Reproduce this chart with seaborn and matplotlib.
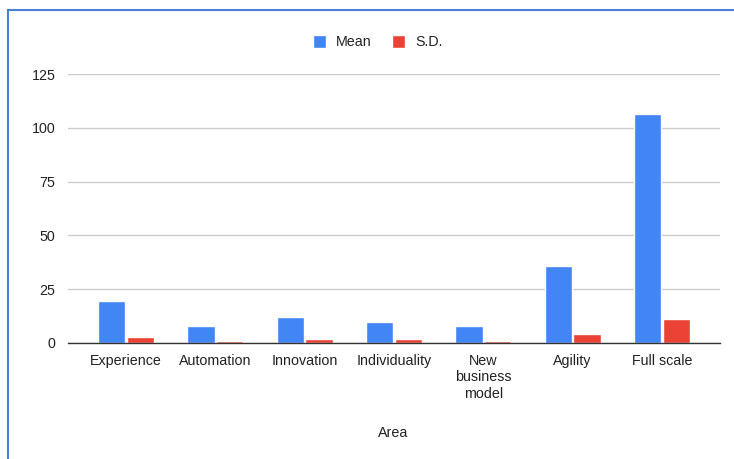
import matplotlib
matplotlib.use("Agg")
import matplotlib.pyplot as plt
import seaborn as sns
import pandas as pd
from matplotlib.patches import Rectangle

# data
areas = ['Experience', 'Automation', 'Innovation', 'Individuality',
         'New\nbusiness\nmodel', 'Agility', 'Full scale']
mean_vals = [19.3, 7.9, 11.9, 9.6, 7.9, 35.8, 106.2]
sd_vals = [2.7, 0.8, 1.7, 1.7, 1.1, 4.0, 11.0]
series = ['Mean', 'S.D.']
yticks = [0, 25, 50, 75, 100, 125]

df = pd.DataFrame({
    'Area': areas * 2,
    'value': mean_vals + sd_vals,
    'series': [series[0]] * len(areas) + [series[1]] * len(areas),
})

sns.set_style('white')
plt.rcParams['font.family'] = ['Liberation Sans', 'DejaVu Sans']

fig = plt.figure(figsize=(7.34, 4.59), dpi=100)
ax = fig.add_axes([68 / 734, 1 - 343 / 459, (720 - 68) / 734, (343 - 74) / 459])

sns.barplot(data=df, x='Area', y='value', hue='series', order=areas,
            palette=['#4285F4', '#EA4335'], width=0.64, gap=0.04,
            saturation=1, ax=ax, legend=True)

ax.set_ylim(0, 125)
ax.set_xlim(-0.65, 6.65)
ax.set_yticks(yticks)
ax.yaxis.grid(True, color='#cccccc', linewidth=1)
ax.set_axisbelow(True)
for s in ['top', 'right', 'left']:
    ax.spines[s].set_visible(False)
ax.spines['bottom'].set_color('#333333')
ax.spines['bottom'].set_linewidth(1)
ax.tick_params(axis='both', length=0, labelsize=10.3, colors='#222222')
ax.tick_params(axis='x', pad=8)
ax.tick_params(axis='y', pad=9)
ax.set_ylabel('')
ax.set_xlabel('Area', fontsize=10.3, color='#222222')
ax.xaxis.set_label_coords(0.498, -0.309)

ax.legend_.remove()
handles, labels = ax.get_legend_handles_labels()
fig.legend(handles, labels, loc='center', bbox_to_anchor=(378 / 734, 1 - 42 / 459),
           ncol=2, frameon=False, fontsize=10.3, handlelength=0.9, handleheight=1.1,
           handletextpad=0.7, columnspacing=1.4, labelcolor='#222222')

# blue frame around the chart (cropped at right and bottom)
fig.patches.append(Rectangle((8 / 734, -0.05), 1.1, 1 - 10 / 459 + 0.05,
                             transform=fig.transFigure, fill=False,
                             edgecolor='#4a7fd6', linewidth=1.5))

fig.savefig('out.png', dpi=100)
